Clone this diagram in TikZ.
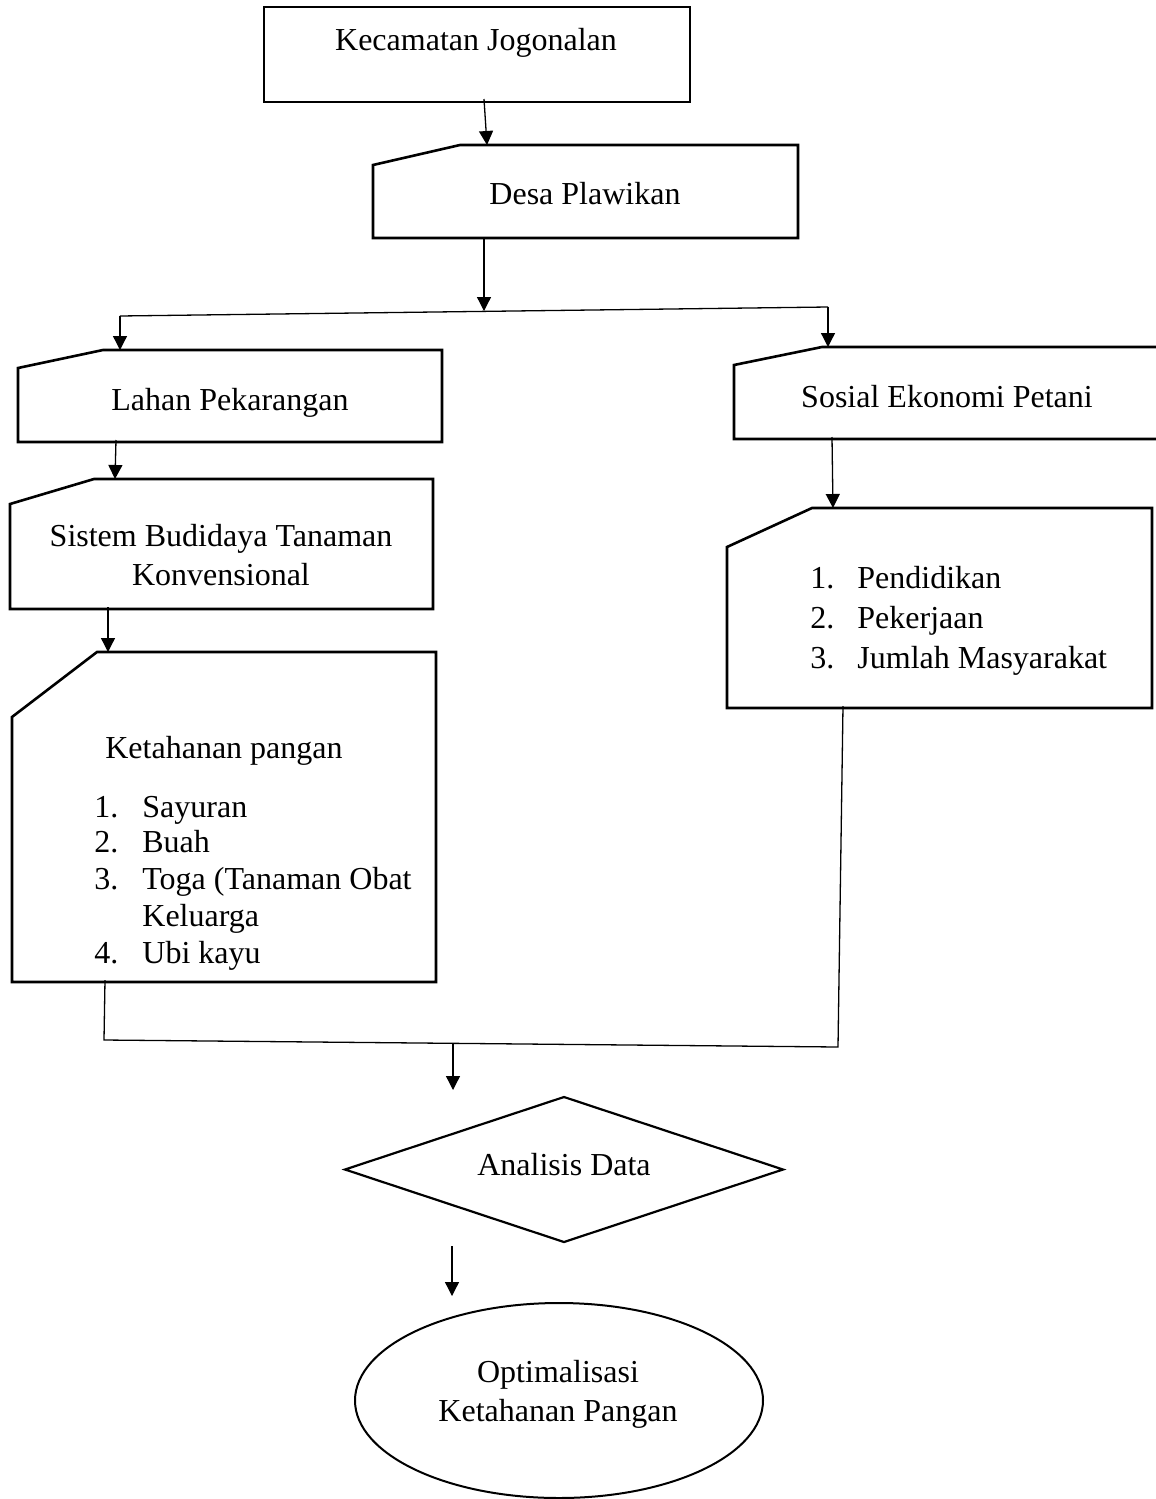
\documentclass[tikz,border=0pt]{standalone}
\usepackage{fontspec}
\setmainfont{Liberation Serif}
\usetikzlibrary{arrows.meta,shapes.geometric,calc,fit}
\newcommand\manualbox[3]{%
  \draw[boxline] ($(#1.north west)+(0,#3)$) -- ($(#1.north west)+(#2,0)$) -- (#1.north east) -- (#1.south east) -- (#1.south west) -- cycle;}
\begin{document}
\begin{tikzpicture}[x=0.5pt,y=-0.5pt,
  boxline/.style={line width=1.3pt,line join=miter},
  conn/.style={line width=0.65pt},
  arr/.style={conn,-{Triangle[width=7pt,length=7pt]}},
  txt/.style={font=\fontsize{16}{19}\selectfont,inner sep=0pt,anchor=base},
  ltxt/.style={font=\fontsize{16}{19}\selectfont,inner sep=0pt,anchor=base west},
  area/.style={draw=none,inner sep=0pt,outer sep=0pt}
]
\useasboundingbox (0,0) rectangle (1156,1499);
\clip (0,0) rectangle (1156,1499);

% areas of the boxes
\node[area,fit={(264,7) (690,102)}] (kec) {};
\node[area,fit={(373,145) (798,238)}] (desa) {};
\node[area,fit={(18,350) (442,442)}] (lahan) {};
\node[area,fit={(10,479) (433,609)}] (budi) {};
\node[area,fit={(12,652) (436,982)}] (keta) {};
\node[area,fit={(734,347) (1175,439)}] (sosial) {};
\node[area,fit={(727,508) (1152,708)}] (list) {};
\node[area,fit={(345,1097) (783,1242)}] (ana) {};
\node[ellipse,draw,line width=1pt,minimum width=204pt,minimum height=97.5pt,inner sep=0pt] (opt) at (559,1400.5) {};

% outlines
\draw[boxline] (kec.north west) rectangle (kec.south east);
\manualbox{desa}{87}{20}
\manualbox{lahan}{85}{18}
\manualbox{budi}{84}{25}
\manualbox{keta}{85}{65}
\manualbox{sosial}{88}{18}
\manualbox{list}{85}{39}
\draw[line width=1.1pt] (ana.west) -- (ana.north) -- (ana.east) -- (ana.south) -- cycle;

% texts
\node[txt] (kect) at (476,50) {Kecamatan Jogonalan};
\node[txt] (desat) at (585,204) {Desa Plawikan};
\node[txt] (lahant) at (230,410) {Lahan Pekarangan};
\node[txt] (budit1) at (221,546) {Sistem Budidaya Tanaman};
\node[txt] (budit2) at (221,585) {Konvensional};
\node[txt] (ketat) at (224,758) {Ketahanan pangan};
\node[txt] (sosialt) at (947,407) {Sosial Ekonomi Petani};
\node[txt] (anat) at (564,1175) {Analisis Data};
\node[txt] (optt1) at (558,1382) {Optimalisasi};
\node[txt] (optt2) at (558,1421) {Ketahanan Pangan};

\foreach \n/\t/\y in {1/Sayuran/817, 2/Buah/852, 3/{Toga (Tanaman Obat}/889, 4/{Ubi kayu}/963} {
  \node[ltxt] (kn\n) at (94,\y) {\n.};
  \node[ltxt] (kt\n) at (142,\y) {\t};
}
\node[ltxt] (kt3b) at (142,926) {Keluarga};
\foreach \n/\t/\y in {1/Pendidikan/588, 2/Pekerjaan/628, 3/{Jumlah Masyarakat}/668} {
  \node[ltxt] (sn\n) at (810,\y) {\n.};
  \node[ltxt] (st\n) at (857,\y) {\t};
}

% connectors
\coordinate (split) at (484,311);
\coordinate (splitL) at (120,316);
\coordinate (splitR) at (828,307);
\coordinate (joinL) at (104,1040);
\coordinate (joinR) at (838,1047);
\coordinate (merge) at (453,1044);
\coordinate (anaIn) at (453,1090);

\draw[arr] ($(kec.south)+(7,-3)$) -- ($(desa.north west)+(114,0)$);
\draw[arr] ($(desa.south west)+(111,0)$) -- (split);
\draw[conn] (splitL) -- (splitR);
\draw[arr] (splitL) -- ($(lahan.north west)+(102,0)$);
\draw[arr] (splitR) -- ($(sosial.north west)+(94,0)$);
\draw[arr] ($(lahan.south west)+(98,-2)$) -- ($(budi.north west)+(105,0)$);
\draw[arr] ($(budi.south west)+(98,-2)$) -- ($(keta.north west)+(96,0)$);
\draw[arr] ($(sosial.south west)+(98,-2)$) -- ($(list.north west)+(106,0)$);
\draw[conn] ($(keta.south west)+(93,-2)$) -- (joinL) -- (joinR) -- ($(list.south west)+(116,-2)$);
\draw[arr] (merge) -- (anaIn);
\draw[arr] ($(ana.south)+(-112,4)$) -- ($(opt.north)+(-107,-6)$);
\end{tikzpicture}
\end{document}
